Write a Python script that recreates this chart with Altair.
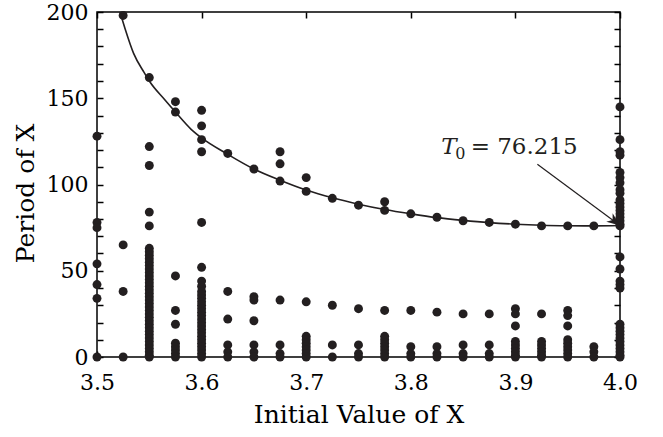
import altair as alt
import pandas as pd

# ---- data ----
x_cols = [3.5, 3.525, 3.55, 3.575, 3.6, 3.625, 3.65, 3.675, 3.7, 3.725, 3.75,
          3.775, 3.8, 3.825, 3.85, 3.875, 3.9, 3.925, 3.95, 3.975, 4.0]

p_3500 = [128, 78, 75, 54, 42, 34, 0]
p_3525 = [198, 65, 38, 0]
p_3550 = [162, 122, 111, 84, 76, 63, 61, 59, 57, 55, 53, 51, 49, 47, 45, 43, 41, 39,
          37, 35, 33, 31, 29, 27, 25, 23, 21, 19, 17, 15, 13, 11, 9, 7, 5, 3, 1, 0]
p_3575 = [148, 142, 47, 27, 19, 8, 6, 4, 2, 0]
p_3600 = [143, 134, 126, 119, 78, 52, 44, 41, 38, 36, 34, 32, 30, 28, 26, 24, 22,
          20, 18, 16, 14, 12, 10, 8, 6, 4, 2, 0]
p_3625 = [118, 38, 22, 7, 3, 0]
p_3650 = [109, 35, 33, 21, 7, 3, 0]
p_3675 = [119, 112, 102, 33, 7, 2, 0]
p_3700 = [104, 96, 32, 12, 10, 8, 6, 4, 2, 0]
p_3725 = [92, 30, 7, 0]
p_3750 = [88, 28, 7, 2, 0]
p_3775 = [90, 85, 27, 12, 10, 8, 6, 4, 2, 0]
p_3800 = [83, 27, 6, 2, 0]
p_3825 = [81, 26, 6, 2, 0]
p_3850 = [79, 25, 7, 2, 0]
p_3875 = [78, 25, 7, 2, 0]
p_3900 = [77, 28, 25, 18, 9, 7, 5, 3, 1, 0]
p_3925 = [76, 25, 9, 7, 5, 3, 1, 0]
p_3950 = [76, 27, 24, 18, 10, 8, 6, 4, 2, 0]
p_3975 = [76, 6, 3, 0]
p_4000 = [145, 126, 119, 117, 107, 104, 101, 97, 95, 91, 89, 87, 85, 83, 81, 79,
          77, 76, 58, 51, 44, 42, 40, 19, 17, 15, 13, 11, 9, 7, 5, 3, 1, 0]

columns = [p_3500, p_3525, p_3550, p_3575, p_3600, p_3625, p_3650, p_3675, p_3700,
           p_3725, p_3750, p_3775, p_3800, p_3825, p_3850, p_3875, p_3900, p_3925,
           p_3950, p_3975, p_4000]

curve_x = [3.522, 3.527, 3.535, 3.545, 3.55, 3.565, 3.575, 3.59, 3.6, 3.625, 3.65,
           3.675, 3.7, 3.725, 3.75, 3.775, 3.8, 3.825, 3.85, 3.875, 3.9, 3.925,
           3.95, 3.975, 4.0]
curve_y = [200, 190, 176, 165, 160, 149, 142, 132, 127, 117.5, 109, 102.5, 96.8,
           92.3, 88.6, 85.5, 83, 80.8, 79.2, 77.9, 77, 76.4, 76.1, 76.0, 76.2]

arrow_x = [3.921, 4.0]
arrow_y = [111.7, 76.2]

x_ticks = [3.5, 3.6, 3.7, 3.8, 3.9, 4.0]
y_ticks = list(range(0, 201, 10))

# ---- build tables ----
pts = pd.DataFrame([{"x": x, "period": p} for x, col in zip(x_cols, columns) for p in col])
curve = pd.DataFrame({"x": curve_x, "T": curve_y})
arrow = pd.DataFrame({"x": arrow_x, "y": arrow_y})
head = pd.DataFrame({"x": arrow_x[-1:], "y": arrow_y[-1:]})

INK = "#231f20"
FONT = "DejaVu Serif"
xs = alt.Scale(domain=[3.5, 4.0], nice=False, zero=False)
ys = alt.Scale(domain=[0, 200], nice=False, zero=False)
tick_axis = dict(tickSize=6, offset=-6, domain=False, tickColor="black",
                 tickWidth=1.5, grid=False, labelFlush=False)

points = alt.Chart(pts).mark_circle(size=80, color=INK, opacity=1).encode(
    x=alt.X("x:Q", scale=xs,
            axis=alt.Axis(orient="bottom", values=x_ticks, format=".1f",
                          title="Initial Value of X", labelPadding=15, titlePadding=9,
                          **tick_axis)),
    y=alt.Y("period:Q", scale=ys,
            axis=alt.Axis(orient="left", values=y_ticks,
                          labelExpr="datum.value % 50 === 0 ? datum.label : ''",
                          title="Period of X", labelPadding=9, titlePadding=8,
                          titleY=181, **tick_axis)),
)

line = alt.Chart(curve).mark_line(color=INK, strokeWidth=1.6, interpolate="monotone").encode(
    x=alt.X("x:Q", scale=xs,
            axis=alt.Axis(orient="top", values=x_ticks, labels=False, title=None, **tick_axis)),
    y=alt.Y("T:Q", scale=ys,
            axis=alt.Axis(orient="right", values=y_ticks, labels=False, title=None, **tick_axis)),
)

arrow_line = alt.Chart(arrow).mark_line(color=INK, strokeWidth=1.2).encode(
    x=alt.X("x:Q", scale=xs, axis=None),
    y=alt.Y("y:Q", scale=ys, axis=None),
)

arrow_head = alt.Chart(head).mark_point(
    shape="M0,0L-1,-0.4L-0.7,0L-1,0.4Z", size=700, filled=True, color=INK,
    opacity=1, angle=37, strokeWidth=0,
).encode(
    x=alt.X("x:Q", scale=xs, axis=None),
    y=alt.Y("y:Q", scale=ys, axis=None),
)

lab_T = alt.Chart(pd.DataFrame({"x": [3.829], "y": [117.7], "t": ["T"]})).mark_text(
    align="left", baseline="alphabetic", font=FONT, fontStyle="italic", fontSize=23, color=INK
).encode(x=alt.X("x:Q", scale=xs, axis=None), y=alt.Y("y:Q", scale=ys, axis=None), text="t:N")

lab_0 = alt.Chart(pd.DataFrame({"x": [3.8425], "y": [114.8], "t": ["0"]})).mark_text(
    align="left", baseline="alphabetic", font=FONT, fontSize=16, color=INK
).encode(x=alt.X("x:Q", scale=xs, axis=None), y=alt.Y("y:Q", scale=ys, axis=None), text="t:N")

lab_v = alt.Chart(pd.DataFrame({"x": [3.8572], "y": [117.7], "t": ["= 76.215"]})).mark_text(
    align="left", baseline="alphabetic", font=FONT, fontSize=23, color=INK
).encode(x=alt.X("x:Q", scale=xs, axis=None), y=alt.Y("y:Q", scale=ys, axis=None), text="t:N")

chart = alt.layer(points, line, arrow_line, arrow_head, lab_T, lab_0, lab_v).resolve_axis(
    x="independent", y="independent"
).properties(
    width=523, height=345,
    autosize=alt.AutoSizeParams(type="none"),
    padding={"left": 97, "top": 12, "right": 43, "bottom": 80},
).configure_view(
    stroke="black", strokeWidth=1.5
).configure_axis(
    labelFont=FONT, labelFontSize=22, labelColor="black",
    titleFont=FONT, titleFontSize=25, titleFontWeight="normal", titleColor="black",
)

chart.save("out.html", embed_options={"renderer": "svg", "actions": False})
